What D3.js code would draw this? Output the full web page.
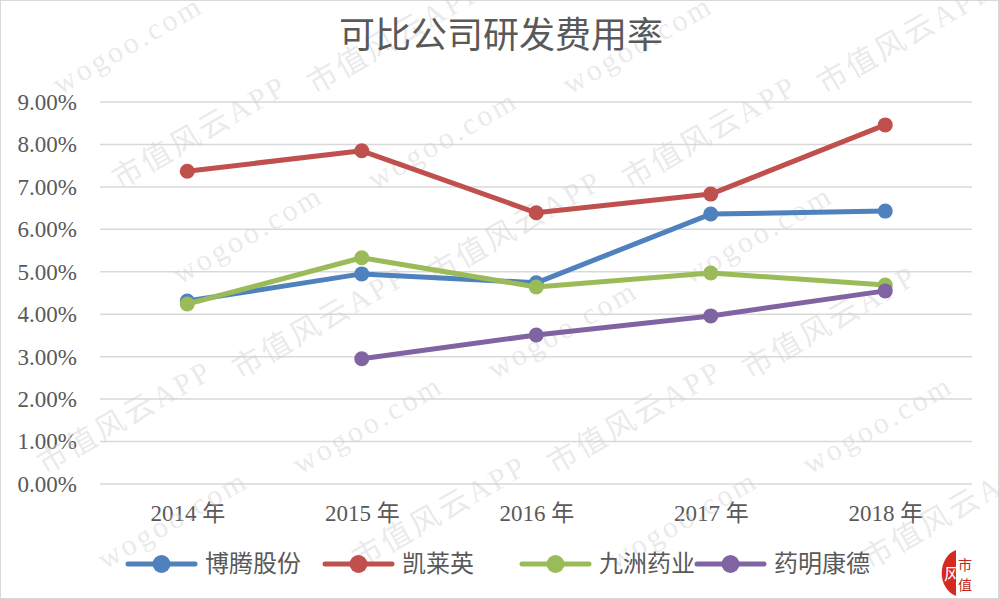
<!DOCTYPE html>
<html>
<head>
<meta charset="utf-8">
<script src="https://cdn.jsdelivr.net/npm/d3@7"></script>
<style>
  body { margin: 0; background: #fff; }
  svg text { font-family: "Liberation Serif", "Noto Sans CJK SC", serif; }
</style>
</head>
<body>
<div id="chart"></div>
<script>
// Data
var years = ["2014 年", "2015 年", "2016 年", "2017 年", "2018 年"];
var seriesNames = ["博腾股份", "凯莱英", "九洲药业", "药明康德"];
var boteng = [0.0431, 0.0495, 0.0474, 0.0636, 0.0643];
var kailaiying = [0.0737, 0.0785, 0.0639, 0.0683, 0.0846];
var jiuzhou = [0.0424, 0.0533, 0.0464, 0.0497, 0.0469];
var yaoming = [null, 0.0295, 0.0351, 0.0396, 0.0455];
var yTicks = [0, 0.01, 0.02, 0.03, 0.04, 0.05, 0.06, 0.07, 0.08, 0.09];
var colors = ["#4F81BD", "#C0504D", "#9BBB59", "#8064A2"];

var width = 999;
var height = 599;

var svg = d3.select("#chart")
  .append("svg")
  .attr("width", width)
  .attr("height", height);

// outer border
svg.append("rect")
  .attr("x", 0.5).attr("y", 0.5)
  .attr("width", width - 1).attr("height", height - 1)
  .attr("fill", "#fff")
  .attr("stroke", "#d9d9d9");

// Scales
var xScale = d3.scalePoint()
  .domain(years)
  .range([100, 972.5])
  .padding(0.5);
var yScale = d3.scaleLinear()
  .domain([0, 0.09])
  .range([484, 102]);

// Gridlines
svg.append("g")
  .selectAll("line")
  .data(yTicks)
  .enter()
  .append("line")
  .attr("x1", 100)
  .attr("x2", 972)
  .attr("y1", function(d) { return yScale(d); })
  .attr("y2", function(d) { return yScale(d); })
  .attr("stroke", "#d9d9d9")
  .attr("stroke-width", 1.5);

// Y axis labels
var yAxis = d3.axisLeft(yScale)
  .tickValues(yTicks)
  .tickSize(0)
  .tickPadding(0)
  .tickFormat(d3.format(".2%"));
var gy = svg.append("g")
  .attr("transform", "translate(77,0)")
  .call(yAxis);
gy.select(".domain").remove();
gy.selectAll("text")
  .attr("font-size", 23)
  .attr("fill", "#595959")
  .style("font-family", "'Liberation Serif', serif");

// X axis labels
var xAxis = d3.axisBottom(xScale).tickSize(0).tickPadding(0);
var gx = svg.append("g")
  .attr("transform", "translate(0,505)")
  .call(xAxis);
gx.select(".domain").remove();
gx.selectAll("text")
  .attr("font-size", 23)
  .attr("fill", "#595959");

// Watermark (only copies whose middle is on the page)
var wm = svg.append("g")
  .attr("fill", "#d0d0d0")
  .attr("fill-opacity", 0.45)
  .attr("font-size", 30)
  .style("font-family", "'Noto Sans CJK SC', sans-serif");
var wmTexts = ["市值风云APP", "wogoo.com"];
for (var r = -4; r < 10; r++) {
  for (var c = -2; c < 6; c++) {
    var bx = c * 255 + r * 60;
    var by = r * 95;
    var cx = bx + 69, cy = by - 40;
    if (cx < 60 || cx > 940 || cy < 40 || cy > 560) continue;
    wm.append("text")
      .attr("transform", "translate(" + bx + "," + by + ") rotate(-30)")
      .attr("letter-spacing", 3)
      .text(wmTexts[(r + c + 20) % 2]);
  }
}

// Lines
var allSeries = [boteng, kailaiying, jiuzhou, yaoming];
var line = d3.line()
  .defined(function(d) { return d != null; })
  .x(function(d, i) { return xScale(years[i]); })
  .y(function(d) { return yScale(d); });

allSeries.forEach(function(vals, s) {
  svg.append("path")
    .attr("d", line(vals))
    .attr("fill", "none")
    .attr("stroke", colors[s])
    .attr("stroke-width", 5)
    .attr("stroke-linejoin", "round")
    .attr("stroke-linecap", "round");
  svg.append("g")
    .selectAll("circle")
    .data(vals.map(function(v, i) { return { v: v, i: i }; }).filter(function(d) { return d.v != null; }))
    .enter()
    .append("circle")
    .attr("cx", function(d) { return xScale(years[d.i]); })
    .attr("cy", function(d) { return yScale(d.v); })
    .attr("r", 7.5)
    .attr("fill", colors[s]);
});

// Title
svg.append("text")
  .attr("x", 501)
  .attr("y", 48)
  .attr("text-anchor", "middle")
  .attr("font-size", 36)
  .attr("fill", "#595959")
  .style("font-family", "'Noto Sans CJK SC', sans-serif")
  .text("可比公司研发费用率");

// Legend
var legendX = [128, 325, 522, 697];
var legend = svg.append("g");
seriesNames.forEach(function(name, s) {
  var lx = legendX[s];
  legend.append("line")
    .attr("x1", lx).attr("x2", lx + 67)
    .attr("y1", 564).attr("y2", 564)
    .attr("stroke", colors[s])
    .attr("stroke-width", 5)
    .attr("stroke-linecap", "round");
  legend.append("circle")
    .attr("cx", lx + 33.5).attr("cy", 564)
    .attr("r", 9)
    .attr("fill", colors[s]);
  legend.append("text")
    .attr("x", lx + 77)
    .attr("y", 572)
    .attr("font-size", 24)
    .attr("fill", "#595959")
    .style("font-family", "'Noto Sans CJK SC', sans-serif")
    .text(name);
});

// Logo at bottom right
var logo = svg.append("g").attr("transform", "translate(942,550)");
logo.append("path")
  .attr("d", "M14,0 A20,24 0 0,0 14,46 Z")
  .attr("fill", "#d42a20");
logo.append("text")
  .attr("x", 2).attr("y", 30)
  .attr("font-size", 16)
  .attr("fill", "#fff")
  .style("font-family", "'Noto Sans CJK SC', sans-serif")
  .text("风");
logo.append("text")
  .attr("x", 16).attr("y", 20)
  .attr("font-size", 14)
  .attr("fill", "#c0281e")
  .style("font-family", "'Noto Sans CJK SC', sans-serif")
  .text("市");
logo.append("text")
  .attr("x", 16).attr("y", 40)
  .attr("font-size", 14)
  .attr("fill", "#c0281e")
  .style("font-family", "'Noto Sans CJK SC', sans-serif")
  .text("值");
</script>
</body>
</html>
